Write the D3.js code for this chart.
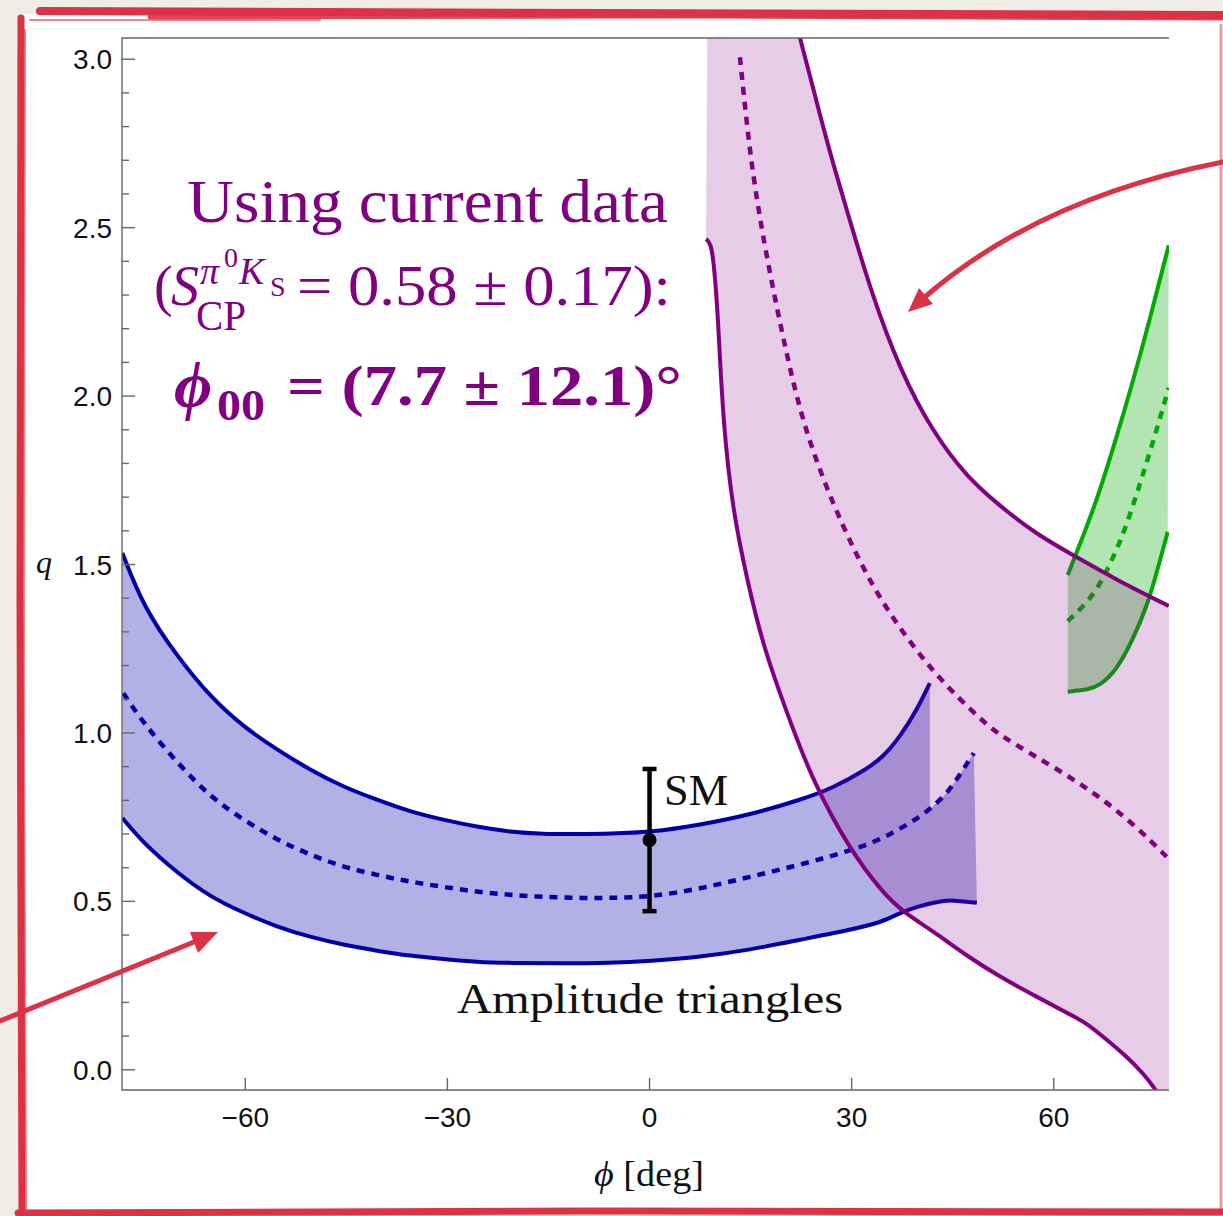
<!DOCTYPE html>
<html>
<head>
<meta charset="utf-8">
<script src="https://cdn.jsdelivr.net/npm/d3@7"></script>
<style>
  body { margin: 0; background: #f0ede7; }
  svg { display: block; }
</style>
</head>
<body>
<svg id="chart" width="1223" height="1216"></svg>
<script>
// phi [deg], q
const blueUpper = [[-78.24,1.534],[-75.13,1.374],[-70.08,1.226],[-65.19,1.107],[-60.29,1.018],[-55.25,0.950],[-50.36,0.890],[-45.46,0.840],[-40.42,0.801],[-35.53,0.766],[-30.63,0.742],[-25.59,0.721],[-20.69,0.706],[-15.80,0.700],[-10.75,0.700],[-5.86,0.701],[0.07,0.705],[7.49,0.727],[14.91,0.757],[22.32,0.801],[27.21,0.836],[32.26,0.893],[34.63,0.928],[37.15,0.988],[39.67,1.068],[41.60,1.148]];
const blueMid = [[-78.1,1.118],[-75.13,1.029],[-70.08,0.911],[-65.19,0.810],[-60.29,0.742],[-55.25,0.682],[-50.36,0.638],[-45.46,0.602],[-40.42,0.578],[-35.53,0.558],[-30.63,0.543],[-25.59,0.528],[-20.69,0.519],[-15.80,0.513],[-10.75,0.510],[-5.86,0.510],[0.07,0.513],[7.49,0.537],[14.91,0.573],[22.32,0.608],[29.73,0.650],[34.63,0.685],[39.67,0.745],[42.05,0.780],[44.57,0.830],[46.50,0.890],[48.13,0.940]];
const blueLower = [[-78.24,0.747],[-75.13,0.673],[-70.08,0.584],[-65.19,0.513],[-60.29,0.466],[-55.25,0.424],[-50.36,0.394],[-45.46,0.371],[-40.42,0.353],[-35.53,0.338],[-30.63,0.329],[-25.59,0.320],[-20.69,0.317],[-13.27,0.316],[-5.86,0.317],[0.07,0.323],[7.49,0.335],[14.91,0.356],[22.32,0.386],[29.73,0.415],[34.63,0.439],[37.15,0.466],[39.67,0.484],[42.05,0.496],[44.13,0.504],[46.06,0.501],[48.58,0.496]];
const blueUpperEnd = 41.60;

const purpleLower = [[8.38,2.466],[9.12,2.454],[9.57,2.389],[10.16,2.240],[10.90,1.920],[12.39,1.656],[14.46,1.457],[16.84,1.258],[20.40,1.059],[24.25,0.855],[29.74,0.653],[34.63,0.525],[37.60,0.469],[42.05,0.412],[47.09,0.338],[51.99,0.276],[56.88,0.223],[61.93,0.169],[64.89,0.139],[67.86,0.089],[70.83,0.039],[73.20,-0.009],[75.42,-0.065],[77.2,-0.134]];
const purpleMid = [[13.42,3.006],[13.87,2.917],[14.91,2.721],[16.39,2.522],[18.32,2.318],[20.40,2.119],[22.77,1.920],[26.33,1.721],[30.78,1.522],[35.23,1.362],[42.05,1.178],[49.47,1.033],[52.43,0.988],[56.88,0.935],[61.93,0.875],[66.82,0.810],[72.01,0.727],[77.06,0.626]];
const purpleUpper = [[21.73,3.116],[22.32,3.062],[24.25,2.917],[26.77,2.721],[29.74,2.522],[32.70,2.320],[37.15,2.077],[42.05,1.893],[47.09,1.760],[51.99,1.674],[57.18,1.593],[62.82,1.528],[69.34,1.454],[77.06,1.377]];
const purpleStart = 8.63;

const greenUpper = [[62.08,1.469],[64.30,1.582],[66.38,1.691],[69.05,1.860],[71.71,2.041],[74.38,2.237],[77.06,2.448]];
const greenMid = [[62.08,1.332],[64.30,1.374],[66.38,1.424],[68.31,1.499],[70.09,1.579],[71.71,1.671],[74.38,1.840],[77.06,2.024]];
const greenLower = [[62.08,1.122],[63.40,1.126],[64.89,1.128],[66.82,1.140],[69.34,1.187],[71.71,1.276],[73.79,1.374],[75.27,1.475],[76.91,1.597]];

const smPoint = { phi: 0, q: 0.682, err: 0.211 };

const xTicks = [-60, -30, 0, 30, 60];
const yMajor = [0, 0.5, 1.0, 1.5, 2.0, 2.5, 3.0];
const yMinor = d3.range(0, 31).map(i => i / 10);

const colBlue = "#0000aa", colPurple = "#800080", colGreen = "#00aa00", colRed = "#dc3246";

const svg = d3.select("#chart");
const pLeft = 122, pRight = 1169, pTop = 38, pBottom = 1090;
const x = d3.scaleLinear().domain([-78.3, 77.1]).range([pLeft, pRight]);
const y = d3.scaleLinear().domain([-0.06, 3.063]).range([pBottom, pTop]);

// paper and card
svg.append("rect").attr("width", 1223).attr("height", 1216).attr("fill", "#f0ede7");
svg.append("rect").attr("x", 22).attr("y", 14).attr("width", 1201).attr("height", 1198).attr("fill", "#fff");

const defs = svg.append("defs");
defs.append("clipPath").attr("id", "plot")
  .append("rect").attr("x", pLeft).attr("y", pTop).attr("width", pRight - pLeft).attr("height", pBottom - pTop);
defs.append("clipPath").attr("id", "blueLeft")
  .append("rect").attr("x", pLeft).attr("y", pTop).attr("width", x(blueUpperEnd) - pLeft).attr("height", pBottom - pTop);

const curve = d3.curveBasis;
const line = d3.line().x(d => x(d[0])).y(d => y(d[1])).curve(curve);
const band = (a, b) => line(a) + line(b.slice().reverse()).replace(/^M/, "L") + "Z";

const plot = svg.append("g").attr("clip-path", "url(#plot)");

// blue band (amplitude triangles)
const blueFill = plot.append("g").attr("opacity", 0.3);
blueFill.append("path").attr("d", band(blueUpper, blueLower)).attr("fill", colBlue).attr("clip-path", "url(#blueLeft)");
blueFill.append("path").attr("d", band(blueMid, blueLower)).attr("fill", colBlue);
plot.append("path").attr("d", line(blueUpper)).attr("fill", "none").attr("stroke", colBlue).attr("stroke-width", 4);
plot.append("path").attr("d", line(blueLower)).attr("fill", "none").attr("stroke", colBlue).attr("stroke-width", 4);
plot.append("path").attr("d", line(blueMid)).attr("fill", "none").attr("stroke", colBlue).attr("stroke-width", 4.5).attr("stroke-dasharray", "8,7");

// green band
plot.append("path").attr("d", band(greenUpper, greenLower)).attr("fill", colGreen).attr("opacity", 0.3);
plot.append("path").attr("d", line(greenUpper)).attr("fill", "none").attr("stroke", colGreen).attr("stroke-width", 4);
plot.append("path").attr("d", line(greenLower)).attr("fill", "none").attr("stroke", colGreen).attr("stroke-width", 4);
plot.append("path").attr("d", line(greenMid)).attr("fill", "none").attr("stroke", colGreen).attr("stroke-width", 4.5).attr("stroke-dasharray", "8,7");

// purple band (S_CP)
const yTopOut = 3.3;
const purpleTop = "M" + x(purpleStart) + "," + y(yTopOut) + "L" + x(purpleUpper[0][0]) + "," + y(yTopOut)
  + line(purpleUpper).replace(/^M/, "L");
const purpleLast = purpleUpper[purpleUpper.length - 1];
const purpleBand = purpleTop + "L" + x(purpleLast[0] + 1) + "," + y(purpleLast[1])
  + "L" + x(purpleLast[0] + 1) + "," + y(-0.3)
  + line(purpleLower.slice().reverse()).replace(/^M/, "L") + "Z";
plot.append("path").attr("d", purpleBand).attr("fill", colPurple).attr("opacity", 0.2);
plot.append("path").attr("d", line(purpleUpper)).attr("fill", "none").attr("stroke", colPurple).attr("stroke-width", 4);
plot.append("path").attr("d", line(purpleLower)).attr("fill", "none").attr("stroke", colPurple).attr("stroke-width", 4);
plot.append("path").attr("d", line(purpleMid)).attr("fill", "none").attr("stroke", colPurple).attr("stroke-width", 4.5).attr("stroke-dasharray", "8,7");

// SM point
const sm = svg.append("g").attr("stroke", "#000").attr("stroke-width", 4.5);
sm.append("line").attr("x1", x(smPoint.phi)).attr("x2", x(smPoint.phi))
  .attr("y1", y(smPoint.q + smPoint.err)).attr("y2", y(smPoint.q - smPoint.err));
[smPoint.q + smPoint.err, smPoint.q - smPoint.err].forEach(v => {
  sm.append("line").attr("x1", x(smPoint.phi) - 7).attr("x2", x(smPoint.phi) + 7).attr("y1", y(v)).attr("y2", y(v));
});
svg.append("circle").attr("cx", x(smPoint.phi)).attr("cy", y(smPoint.q)).attr("r", 7).attr("fill", "#000");

// frame and ticks
const axisCol = "#666";
const frame = svg.append("g").attr("stroke", axisCol).attr("stroke-width", 1.4).attr("fill", "none");
frame.append("path").attr("d", `M${pRight},${pTop}H${pLeft}V${pBottom}H${pRight}`);
yMinor.forEach(v => {
  const major = yMajor.some(m => Math.abs(m - v) < 1e-6);
  frame.append("line").attr("x1", pLeft).attr("x2", pLeft + (major ? 13 : 7)).attr("y1", y(v)).attr("y2", y(v));
});
xTicks.forEach(v => {
  frame.append("line").attr("x1", x(v)).attr("x2", x(v)).attr("y1", pBottom).attr("y2", pBottom - 12);
});

const tickFont = "'Liberation Sans', Arial, sans-serif";
svg.append("g").selectAll("text").data(yMajor).join("text")
  .attr("x", 112).attr("y", d => y(d) + 10)
  .attr("text-anchor", "end").attr("font-family", tickFont).attr("font-size", 28).attr("fill", "#111")
  .text(d => d.toFixed(1));
svg.append("g").selectAll("text").data(xTicks).join("text")
  .attr("x", d => x(d)).attr("y", 1127)
  .attr("text-anchor", "middle").attr("font-family", tickFont).attr("font-size", 28).attr("fill", "#111")
  .text(d => d < 0 ? "\u2212" + Math.abs(d) : d);

const serif = "'Liberation Serif', 'Times New Roman', serif";
svg.append("text").attr("x", 36).attr("y", 573).attr("font-family", serif).attr("font-style", "italic")
  .attr("font-size", 32).attr("fill", "#111").text("q");
const xl = svg.append("text").attr("x", 594).attr("y", 1186).attr("font-family", serif).attr("font-size", 36)
  .attr("fill", "#111").attr("textLength", 110).attr("lengthAdjust", "spacingAndGlyphs");
xl.append("tspan").attr("font-style", "italic").text("\u03D5");
xl.append("tspan").text(" [deg]");

svg.append("text").attr("x", 664).attr("y", 805).attr("font-family", serif).attr("font-size", 44)
  .attr("fill", "#111").attr("textLength", 64).attr("lengthAdjust", "spacingAndGlyphs").text("SM");
svg.append("text").attr("x", 457).attr("y", 1013).attr("font-family", serif).attr("font-size", 42)
  .attr("fill", "#111").attr("textLength", 386).attr("lengthAdjust", "spacingAndGlyphs").text("Amplitude triangles");

// purple annotation
const note = svg.append("g").attr("fill", colPurple).attr("font-family", serif);
const put = (tx, ty, size, str, opts = {}) => {
  const t = note.append("text").attr("x", tx).attr("y", ty).attr("font-size", size).text(str);
  if (opts.italic) t.attr("font-style", "italic");
  if (opts.bold) t.attr("font-weight", "bold");
  if (opts.len) t.attr("textLength", opts.len).attr("lengthAdjust", "spacingAndGlyphs");
  return t;
};
put(187, 222, 62, "Using current data", { len: 481 });
put(154, 305, 56, "(");
put(171, 305, 56, "S", { italic: true });
put(200, 284, 38, "\u03C0", { italic: true });
put(224, 267, 28, "0");
put(239, 284, 38, "K", { italic: true });
put(270, 296, 28, "S");
put(196, 330, 42, "CP", { len: 50 });
put(297, 305, 56, "= 0.58 \u00B1 0.17):", { len: 374 });
put(174, 407, 66, "\u03D5", { italic: true, bold: true });
put(217, 420, 44, "00", { bold: true, len: 48 });
put(287, 405, 58, "= (7.7 \u00B1 12.1)\u00B0", { bold: true, len: 395 });

// hand-drawn red border
const deco = svg.append("g").attr("stroke", colRed).attr("fill", "none").attr("stroke-linecap", "round");
deco.append("path").attr("d", "M40,11 L600,13 L1223,15").attr("stroke-width", 8);
deco.append("path").attr("d", "M150,17 L700,16 L1223,18").attr("stroke-width", 5).attr("opacity", 0.9);
deco.append("path").attr("d", "M30,20 L320,20").attr("stroke-width", 2).attr("opacity", 0.6);
deco.append("path").attr("d", "M21,18 L20,600 L22,1216").attr("stroke-width", 7);
deco.append("path").attr("d", "M25,30 L24,700 L26,1210").attr("stroke-width", 2).attr("opacity", 0.6);
deco.append("path").attr("d", "M18,1213 L600,1211 L1223,1212").attr("stroke-width", 7);
deco.append("path").attr("d", "M1221,25 L1221,1210").attr("stroke-width", 3).attr("opacity", 0.5);

// arrows
deco.append("path").attr("d", "M1223,162 Q1040,198 926,296").attr("stroke-width", 5);
svg.append("path").attr("d", "M908,312 L933,304 L919,288 Z").attr("fill", colRed);
deco.append("path").attr("d", "M0,1021 L194,942").attr("stroke-width", 5);
svg.append("path").attr("d", "M218,932 L190,932 L198,953 Z").attr("fill", colRed);
</script>
</body>
</html>
